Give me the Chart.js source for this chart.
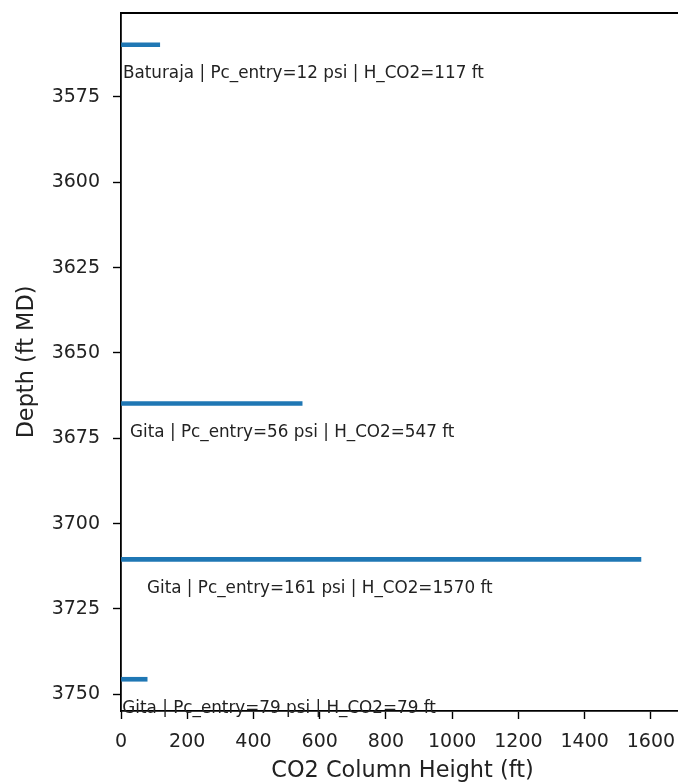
<!DOCTYPE html>
<html>
<head>
<meta charset="utf-8">
<script src="https://cdn.jsdelivr.net/npm/chart.js@4.4.1/dist/chart.umd.min.js"></script>
<style>
  html, body { margin: 0; padding: 0; background: #fff; overflow: hidden; }
  #wrap { width: 678px; height: 783px; overflow: hidden; position: relative; }
  #wrap canvas { position: absolute; left: 0; top: 0; }
</style>
</head>
<body>
<div id="wrap"><canvas id="co2Chart" width="720" height="783"></canvas></div>
<script>
// Seal intervals
const formations = ['Baturaja', 'Gita', 'Gita', 'Gita'];
const depths = [3559.7, 3664.8, 3710.5, 3745.6];      // ft MD
const pcEntry = [12, 56, 161, 79];                      // psi
const columnHeights = [117, 547, 1570, 79];             // ft

const depthTicks = [3575, 3600, 3625, 3650, 3675, 3700, 3725, 3750];
const heightTicks = [0, 200, 400, 600, 800, 1000, 1200, 1400, 1600];

const FONT = 'DejaVu Sans';

// labels under each bar, like ax.text(h*0.05, depth+8, ...)
const labelPlugin = {
    id: 'barLabels',
    afterDatasetsDraw(chart) {
        const ctx = chart.ctx;
        const xs = chart.scales.x;
        const ys = chart.scales.y;
        ctx.save();
        ctx.font = '16.8px "' + FONT + '"';
        ctx.fillStyle = '#222';
        ctx.textBaseline = 'middle';
        ctx.textAlign = 'left';
        formations.forEach((name, i) => {
            const txt = name + ' | Pc_entry=' + pcEntry[i] + ' psi | H_CO2=' + columnHeights[i] + ' ft';
            ctx.fillText(txt, xs.getPixelForValue(columnHeights[i] * 0.05), ys.getPixelForValue(depths[i] + 8.5));
        });
        ctx.restore();
    }
};

// top spine
const framePlugin = {
    id: 'frame',
    afterDraw(chart) {
        const a = chart.chartArea;
        const ctx = chart.ctx;
        ctx.save();
        ctx.strokeStyle = '#000';
        ctx.lineWidth = 1.8;
        ctx.beginPath();
        ctx.moveTo(a.left, a.top);
        ctx.lineTo(a.right, a.top);
        ctx.lineTo(a.right, a.bottom);
        ctx.stroke();
        ctx.restore();
    }
};

const ctx = document.getElementById('co2Chart').getContext('2d');

new Chart(ctx, {
    type: 'bar',
    data: {
        datasets: [{
            data: depths.map((d, i) => ({ x: columnHeights[i], y: d })),
            backgroundColor: '#1f77b4',
            barThickness: 4
        }]
    },
    options: {
        indexAxis: 'y',
        responsive: false,
        animation: false,
        layout: { padding: { top: 13, left: 0, right: 36, bottom: 0 } },
        plugins: {
            legend: { display: false },
            tooltip: { enabled: false }
        },
        scales: {
            x: {
                type: 'linear',
                min: 0,
                max: 1700,
                afterFit: scale => {
                    scale.height = 72;
                    scale.paddingLeft = 0;
                    scale.paddingRight = 0;
                },
                afterBuildTicks: scale => { scale.ticks = heightTicks.map(v => ({ value: v })); },
                grid: { drawOnChartArea: false, drawTicks: true, tickLength: 8, tickColor: '#000', tickWidth: 1.4 },
                border: { display: true, color: '#000', width: 1.8 },
                ticks: {
                    color: '#222',
                    font: { family: FONT, size: 19 },
                    padding: 12,
                    maxRotation: 0,
                    autoSkip: false,
                    callback: v => String(v)
                },
                title: {
                    display: true,
                    text: 'CO2 Column Height (ft)',
                    color: '#222',
                    font: { family: FONT, size: 22.4 },
                    padding: { top: 0, bottom: -2 }
                }
            },
            y: {
                type: 'linear',
                reverse: true,
                offset: false,
                min: 3550.4,
                max: 3754.9,
                afterFit: scale => {
                    scale.width = 121;
                    scale.paddingTop = 0;
                    scale.paddingBottom = 0;
                },
                afterBuildTicks: scale => { scale.ticks = depthTicks.map(v => ({ value: v })); },
                grid: { offset: false, drawOnChartArea: false, drawTicks: true, tickLength: 8, tickColor: '#000', tickWidth: 1.4 },
                border: { display: true, color: '#000', width: 1.8 },
                ticks: {
                    color: '#222',
                    font: { family: FONT, size: 19 },
                    padding: 13,
                    autoSkip: false,
                    callback: v => String(v)
                },
                title: {
                    display: true,
                    text: 'Depth (ft MD)',
                    color: '#222',
                    font: { family: FONT, size: 22.4 },
                    padding: { top: 14, bottom: 0 }
                }
            }
        }
    },
    plugins: [labelPlugin, framePlugin]
});
</script>
</body>
</html>
